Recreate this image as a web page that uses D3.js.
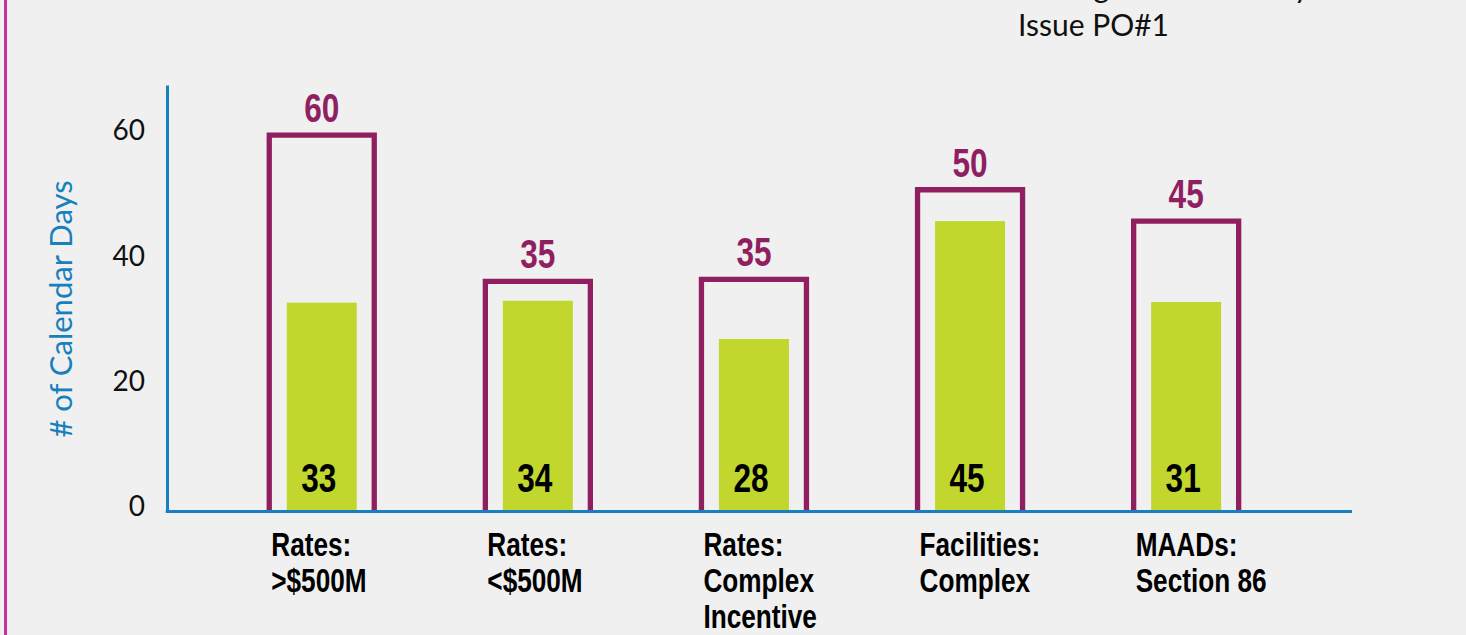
<!DOCTYPE html>
<meta charset="utf-8">
<html>
<head>
<title>Calendar Days to Issue PO#1</title>
<script src="https://d3js.org/d3.v7.min.js"></script>
<style>
    html, body {
        margin: 0;
        padding: 0;
        background: #f0f0f0;
    }
    svg { display: block; }
    .tick text {
        font-family: Lato, sans-serif;
        font-size: 28px;
        fill: #111;
    }
    .cond {
        font-family: "Liberation Sans", Arial, sans-serif;
        font-weight: bold;
    }
</style>
</head>
<body>
<svg id="chart"></svg>
<script>

// categories, one line per array entry
var categories = [
    ["Rates:", ">$500M"],
    ["Rates:", "<$500M"],
    ["Rates:", "Complex", "Incentive"],
    ["Facilities:", "Complex"],
    ["MAADs:", "Section 86"]
]
// printed values
var targetDays = [60, 35, 35, 50, 45]
var actualDays = [33, 34, 28, 45, 31]
// heights as drawn in the source (they don't quite match the printed values)
var targetDrawn = [60, 36.7, 37.0, 51.3, 46.3]
var actualDrawn = [33.3, 33.6, 27.5, 46.3, 33.4]
var yTicks = [0, 20, 40, 60]

var width = 1466
var height = 635
var plum = "#8f1f60"
var green = "#c1d72e"
var blue = "#1780bd"
var squeeze = 0.77   // no condensed bold font here, so narrow a normal one

var svg = d3.select("#chart")
    .attr("width", width)
    .attr("height", height)

var idx = d3.range(categories.length)

var x = d3.scaleBand()
    .domain(idx)
    .range([213.7, 1294.2])
    .padding(0)

var y = d3.scaleLinear()
    .domain([0, 68])
    .range([511.5, 85])

var cx = i => x(i) + x.bandwidth() / 2
var boxW = 105
var barW = 70

// left accent line
svg.append("line")
    .attr("x1", 5.5).attr("x2", 5.5)
    .attr("y1", 0).attr("y2", height)
    .style("stroke", "#c4339e")
    .style("stroke-width", 3)

// y axis
var yAxis = svg.append("g")
    .attr("transform", "translate(167,0)")
    .call(d3.axisLeft(y).tickValues(yTicks).tickSize(0).tickSizeOuter(0).tickPadding(22))
yAxis.select(".domain").style("stroke", blue).style("stroke-width", 3)
yAxis.selectAll(".tick text").attr("dy", "0.16em")

svg.append("text")
    .attr("transform", "translate(72,309) rotate(-90)")
    .attr("text-anchor", "middle")
    .style("font-family", "Lato, sans-serif")
    .style("font-size", "31px")
    .style("fill", blue)
    .text("# of Calendar Days")

// target outlines (open at the bottom)
svg.append("g")
    .selectAll("path")
    .data(idx)
    .enter()
    .append("path")
    .attr("d", function(i) {
        var l = cx(i) - boxW / 2, r = cx(i) + boxW / 2
        return "M" + l + "," + y(0) + "V" + y(targetDrawn[i]) + "H" + r + "V" + y(0)
    })
    .style("fill", "none")
    .style("stroke", plum)
    .style("stroke-width", 5.3)

// actual bars
svg.append("g")
    .selectAll("rect")
    .data(idx)
    .enter()
    .append("rect")
    .attr("x", i => cx(i) - barW / 2)
    .attr("width", barW)
    .attr("y", i => y(actualDrawn[i]))
    .attr("height", i => y(0) - y(actualDrawn[i]))
    .style("fill", green)

// x axis line
svg.append("line")
    .attr("x1", 165.7).attr("x2", 1352)
    .attr("y1", y(0)).attr("y2", y(0))
    .style("stroke", blue)
    .style("stroke-width", 3)

// target labels
svg.append("g")
    .selectAll("g")
    .data(idx)
    .enter()
    .append("g")
    .attr("transform", i => "translate(" + cx(i) + "," + (y(targetDrawn[i]) - 13) + ") scale(" + squeeze + ",1)")
    .append("text")
    .attr("class", "cond")
    .attr("text-anchor", "middle")
    .style("font-size", "41px")
    .style("fill", plum)
    .text(i => targetDays[i])

// actual labels
svg.append("g")
    .selectAll("g")
    .data(idx)
    .enter()
    .append("g")
    .attr("transform", i => "translate(" + (cx(i) - 3) + "," + (y(0) - 20) + ") scale(" + squeeze + ",1)")
    .append("text")
    .attr("class", "cond")
    .attr("text-anchor", "middle")
    .style("font-size", "41px")
    .style("fill", "#000")
    .text(i => actualDays[i])

// category labels
var cat = svg.append("g")
    .selectAll("g")
    .data(idx)
    .enter()
    .append("g")
    .attr("transform", i => "translate(" + (cx(i) - boxW / 2 + 2) + ",0) scale(" + squeeze + ",1)")
    .append("text")
    .attr("class", "cond")
    .style("font-size", "34px")
    .style("fill", "#000")
cat.selectAll("tspan")
    .data(i => categories[i])
    .enter()
    .append("tspan")
    .attr("x", 0)
    .attr("y", (d, j) => 556 + j * 36)
    .text(d => d)

// legend text (cut off at the top, as in the source)
var legend = svg.append("text")
    .style("font-family", "Lato, sans-serif")
    .style("font-size", "30px")
    .style("fill", "#111")
legend.append("tspan").attr("x", 1018).attr("y", -2).text("Average Calendar Days to")
legend.append("tspan").attr("x", 1018).attr("y", 36).text("Issue PO#1")

</script>
</body>
</html>
